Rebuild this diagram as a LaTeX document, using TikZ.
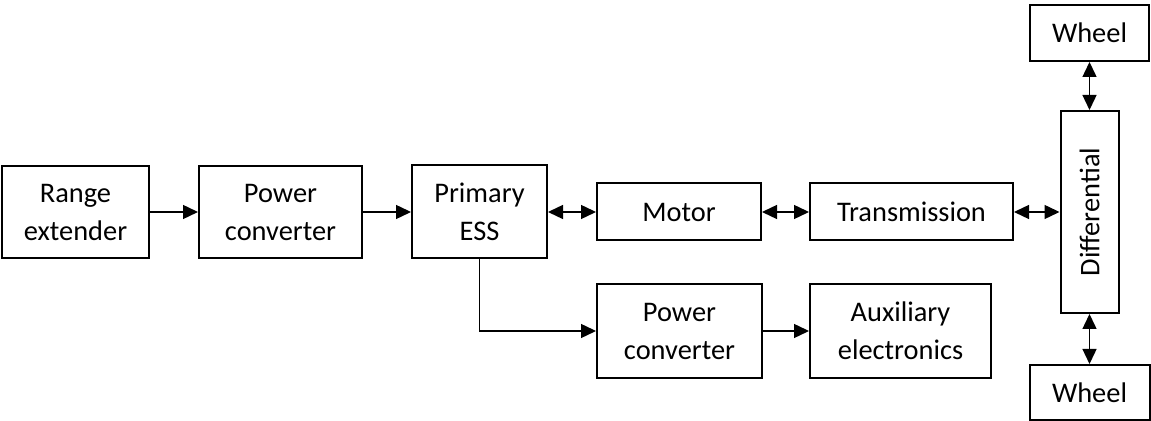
\documentclass[tikz,border=0pt]{standalone}
\usepackage{fontspec}
\setmainfont{Carlito}
\usetikzlibrary{arrows.meta}

\begin{document}
\begin{tikzpicture}[x=0.5pt,y=-0.5pt,
    blk/.style={draw,line width=1pt,inner sep=0pt,align=center,
        font=\fontsize{14.2}{19}\selectfont},
    arr/.style={line width=0.7pt,-{Triangle[length=7.5pt,width=7pt]}},
    biarr/.style={line width=0.7pt,{Triangle[length=7.5pt,width=7pt]}-{Triangle[length=7.5pt,width=7pt]}}]
    \useasboundingbox (0,0) rectangle (1151,421);
    \node[blk,minimum width=73.5pt,minimum height=46pt] (rng) at (75.5,212) {Range\\extender};
    \node[blk,minimum width=81.5pt,minimum height=46pt] (pc1) at (280.5,212) {Power\\converter};
    \node[blk,minimum width=67.5pt,minimum height=46.5pt] (ess) at (479.5,212) {Primary\\ESS};
    \node[blk,minimum width=82pt,minimum height=28.5pt] (mot) at (679,212) {Motor};
    \node[blk,minimum width=101.5pt,minimum height=28.5pt] (trn) at (911.5,212) {Transmission};
    \node[blk,minimum width=101pt,minimum height=29pt,rotate=90] (dif) at (1089.5,212) {Differential};
    \node[blk,minimum width=59.5pt,minimum height=28pt] (wt) at (1089.5,33) {Wheel};
    \node[blk,minimum width=60pt,minimum height=27.5pt] (wb) at (1089.5,392.5) {Wheel};
    \node[blk,minimum width=82.5pt,minimum height=47pt] (pc2) at (679.5,331) {Power\\converter};
    \node[blk,minimum width=90.5pt,minimum height=47pt] (aux) at (900.5,331) {Auxiliary\\electronics};

    \draw[arr] (rng) -- (pc1);
    \draw[arr] (pc1) -- (ess);
    \foreach \a/\b in {ess/mot,mot/trn,trn/dif,wt/dif,dif/wb}{
        \draw[biarr] (\a) -- (\b);
    }
    \draw[arr] (ess.south) |- (pc2.west);
    \draw[arr] (pc2) -- (aux);
\end{tikzpicture}
\end{document}
